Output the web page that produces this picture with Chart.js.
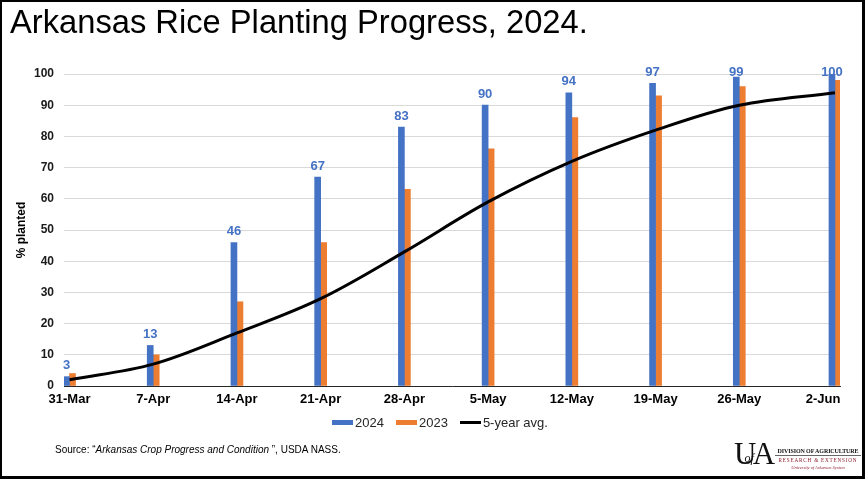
<!DOCTYPE html>
<html>
<head>
<meta charset="utf-8">
<script src="https://cdn.jsdelivr.net/npm/chart.js@4"></script>
<style>
  body { margin: 0; background: #fff; font-family: Arial, "Liberation Sans", sans-serif; }
  #wrap { position: relative; width: 865px; height: 479px; overflow: hidden; }
  #frame { position: absolute; left: 0; top: 0; width: 865px; height: 479px; box-sizing: border-box; border: 2px solid #000; border-right-width: 3px; border-bottom-width: 3px; pointer-events: none; }
  #chart { position: absolute; left: 0; top: 0; }
  #title { position: absolute; left: 10px; top: 3px; font-size: 32.7px; color: #000; white-space: nowrap; }
  #legend { position: absolute; top: 415px; left: 0; width: 880px; text-align: center; font-size: 13px; color: #262626; white-space: nowrap; }
  #legend .item { display: inline-block; margin: 0 6px; }
  #legend .sw { display: inline-block; width: 21px; vertical-align: middle; margin-right: 2px; position: relative; top: -1px; }
  #source { position: absolute; left: 55px; top: 444px; font-size: 10px; color: #000; white-space: nowrap; }
  #logo { position: absolute; left: 734px; top: 436px; font-family: "Liberation Serif", "DejaVu Serif", serif; color: #111; }
  #logo .mark { position: absolute; left: 0; top: 0; white-space: nowrap; }
  #logo .txt { position: absolute; left: 41px; top: 11px; width: 86px; text-align: center; white-space: nowrap; }
</style>
</head>
<body>
<div id="wrap">
  <canvas id="chart" width="865" height="479"></canvas>
  <div id="title">Arkansas Rice Planting Progress, 2024.</div>
  <div id="legend"></div>
  <div id="source">Source: “<i>Arkansas Crop Progress and Condition </i>”, USDA NASS.</div>
  <div id="logo">
    <div class="mark"><span style="font-size:31px">U</span><span style="font-size:12px;font-style:italic;margin-left:-12px;position:relative;top:-2px">of</span><span style="font-size:31px;margin-left:-1px">A</span></div>
    <div class="txt">
      <div style="font-size:6px;font-weight:bold;letter-spacing:-0.1px;border-bottom:1px solid #666;line-height:8px">DIVISION OF AGRICULTURE</div>
      <div style="font-size:5.2px;color:#8c1d2e;letter-spacing:0.8px;line-height:9px">RESEARCH &amp; EXTENSION</div>
      <div style="font-size:4.4px;font-style:italic;color:#8c1d2e;line-height:6px">University of Arkansas System</div>
    </div>
  </div>
  <div id="frame"></div>
</div>

<script>
// Semanas do relatório (dias a partir de 31-Mar); o último ponto cai um dia depois
const weekLabels = ['31-Mar', '7-Apr', '14-Apr', '21-Apr', '28-Apr', '5-May', '12-May', '19-May', '26-May', '2-Jun'];
const reportDay = [0, 7, 14, 21, 28, 35, 42, 49, 56, 64];
const tickDay = [0, 7, 14, 21, 28, 35, 42, 49, 56, 63];

const planted2024 = [3, 13, 46, 67, 83, 90, 94, 97, 99, 100];
const planted2023 = [4, 10, 27, 46, 63, 76, 86, 93, 96, 98];
const fiveYearAvg = [2, 7, 17, 28, 43, 59, 72, 82, 90, 94];

const BLUE = '#4472C4';
const ORANGE = '#ED7D31';

function points(values) {
    return values.map((v, i) => ({ x: reportDay[i], y: v }));
}

// Rótulos azuis acima das barras de 2024
const barLabels = {
    id: 'barLabels',
    afterDatasetsDraw(chart) {
        const ctx = chart.ctx;
        const meta = chart.getDatasetMeta(0);
        ctx.save();
        ctx.font = 'bold 13px Arial, "Liberation Sans", sans-serif';
        ctx.fillStyle = BLUE;
        ctx.textAlign = 'center';
        ctx.textBaseline = 'middle';
        meta.data.forEach((bar, i) => {
            const y = Math.max(bar.y - 11, chart.chartArea.top - 2);
            ctx.fillText(String(planted2024[i]), bar.x, y);
        });
        ctx.restore();
    }
};

const chart = new Chart(document.getElementById('chart'), {
    type: 'bar',
    data: {
        datasets: [{
            label: '2024',
            data: points(planted2024),
            backgroundColor: BLUE,
            barThickness: 6,
            order: 1
        }, {
            label: '2023',
            data: points(planted2023),
            backgroundColor: ORANGE,
            barThickness: 6,
            order: 1
        }, {
            type: 'line',
            label: '5-year avg.',
            data: points(fiveYearAvg),
            borderColor: '#000',
            backgroundColor: '#000',
            borderWidth: 3,
            pointRadius: 0,
            tension: 0.35,
            order: 0
        }]
    },
    plugins: [barLabels],
    options: {
        responsive: false,
        animation: false,
        layout: { padding: { top: 74, left: 8, right: 25, bottom: 63 } },
        plugins: {
            legend: { display: false },
            tooltip: { enabled: false }
        },
        scales: {
            x: {
                type: 'linear',
                offset: false,
                min: -0.46,
                max: 64.42,
                afterBuildTicks: scale => { scale.ticks = tickDay.map(d => ({ value: d })); },
                afterFit: scale => { scale.height = 30; },
                grid: { display: false, drawTicks: false },
                border: { color: '#262626', width: 1 },
                ticks: {
                    padding: 6,
                    autoSkip: false,
                    maxRotation: 0,
                    color: '#000',
                    font: { family: 'Arial, "Liberation Sans", sans-serif', size: 13, weight: 'bold' },
                    callback: value => weekLabels[tickDay.indexOf(value)]
                }
            },
            y: {
                min: 0,
                max: 100,
                afterFit: scale => { scale.width = 56; },
                grid: { color: '#d9d9d9', drawTicks: false },
                border: { display: false },
                ticks: {
                    stepSize: 10,
                    padding: 10,
                    color: '#1a1a1a',
                    font: { family: 'Arial, "Liberation Sans", sans-serif', size: 12, weight: 'bold' }
                },
                title: {
                    display: true,
                    text: '% planted',
                    color: '#000',
                    padding: { top: 6, bottom: 0 },
                    font: { family: 'Arial, "Liberation Sans", sans-serif', size: 12, weight: 'bold' }
                }
            }
        }
    }
});

// Legenda em HTML montada a partir dos datasets
const legendBox = document.getElementById('legend');
chart.data.datasets.forEach(ds => {
    const item = document.createElement('span');
    item.className = 'item';
    const sw = document.createElement('span');
    sw.className = 'sw';
    sw.style.height = ds.type === 'line' ? '3px' : '5px';
    sw.style.background = ds.type === 'line' ? ds.borderColor : ds.backgroundColor;
    item.appendChild(sw);
    item.appendChild(document.createTextNode(ds.label));
    legendBox.appendChild(item);
});
</script>
</body>
</html>
